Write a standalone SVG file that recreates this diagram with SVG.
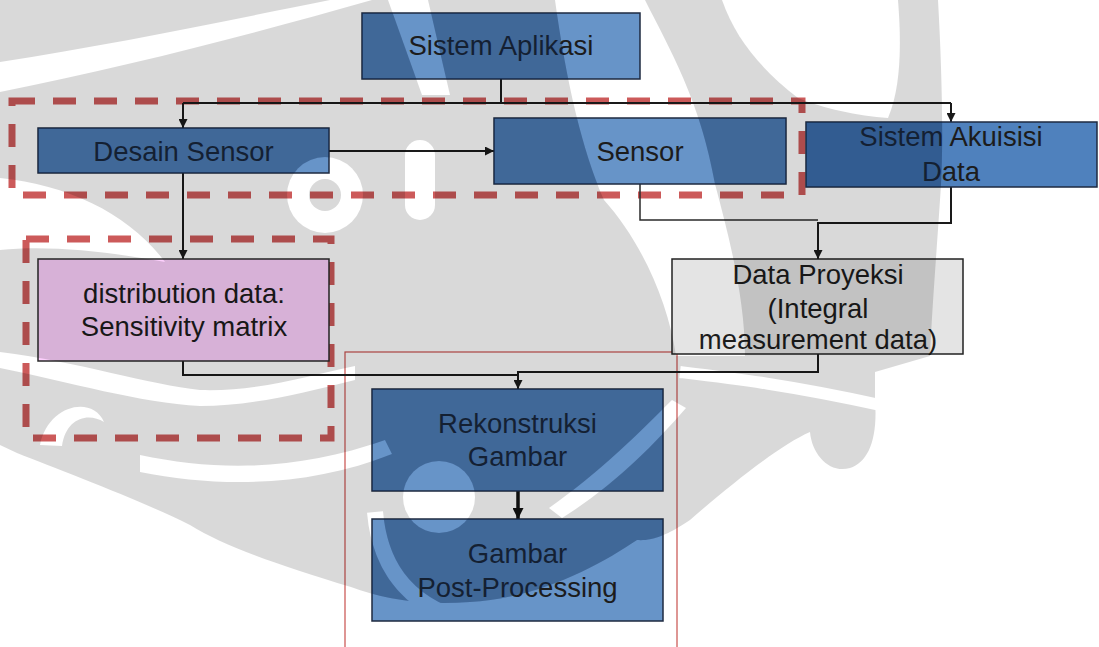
<svg xmlns="http://www.w3.org/2000/svg" width="1099" height="647" viewBox="0 0 1099 647">
  <defs>
    <style>
      .box-blue { fill: #6794c8; stroke: #1e2a40; stroke-width: 1.5; }
      .box-acq { fill: #4f81bd; stroke: #1e2a40; stroke-width: 1.5; }
      .box-pink { fill: #fdd0fd; stroke: #2a2a2a; stroke-width: 1.5; }
      .box-gray { fill: #e4e4e4; stroke: #222; stroke-width: 1.5; }
      .label { font-family: "Liberation Sans", Arial, sans-serif; font-size: 27.5px; fill: #1c1c1c; text-anchor: middle; }
      .wire { fill: none; stroke: #1a1a1a; stroke-width: 2; }
      .wire-thin { fill: none; stroke: #2a2a2a; stroke-width: 1.5; }
      .wire-bold { fill: none; stroke: #111; stroke-width: 3.5; }
      .frame-dash { fill: none; stroke: #cc5a5a; stroke-width: 7; stroke-dasharray: 23 18; }
      .frame-thin { fill: none; stroke: #c9504d; stroke-width: 1.2; }
    </style>
    <marker id="arrow" viewBox="0 0 10 10" refX="10" refY="5" markerWidth="9" markerHeight="9" markerUnits="userSpaceOnUse" orient="auto">
      <path d="M0,0 L10,5 L0,10 Z" fill="#1a1a1a"/>
    </marker>
    <marker id="arrow-bold" viewBox="0 0 10 10" refX="10" refY="5" markerWidth="11" markerHeight="11" markerUnits="userSpaceOnUse" orient="auto">
      <path d="M0,0 L10,5 L0,10 Z" fill="#111"/>
    </marker>

    <!-- ornamental background emblem, used as a soft darkening layer -->
    <mask id="emblem" maskUnits="userSpaceOnUse" x="0" y="0" width="1099" height="647">
      <rect width="1099" height="647" fill="#000"/>
      <g fill="#fff">
        <path d="M0,0 H330 C230,20 110,45 0,62 Z"/>
        <path d="M0,92 C130,66 260,32 372,0 H938 C942,70 944,150 940,200 C936,260 932,310 930,356 L875,372 V400 C878,440 868,462 850,468 C830,474 812,455 810,432 C780,445 730,485 690,520 C665,537 650,541 637,540 C600,565 540,598 470,602 C420,606 380,598 351,587 C280,565 225,547 190,525 C140,500 60,470 17,453 L0,445 Z"/>
      </g>
      <g fill="#000">
        <path d="M0,178 C70,185 130,215 165,262 C110,252 50,245 0,250 Z"/>
        <path d="M388,0 H428 L450,95 L422,95 Z"/>
        <circle cx="325" cy="195" r="38"/>
        <rect x="405" y="140" width="30" height="80" rx="15"/>
        <path d="M555,0 H645 C670,50 700,100 715,184 C730,240 745,300 745,356 L676,356 C668,300 640,240 604,200 C582,150 566,80 555,0 Z"/>
        <path d="M722,0 H898 C902,50 900,90 888,118 C858,116 822,108 798,98 C762,70 736,40 722,0 Z"/>
        <path d="M0,352 C80,362 150,385 200,390 C260,392 310,375 355,366 L355,380 C300,394 250,406 200,406 C140,403 70,382 0,368 Z"/>
        <path d="M140,455 C220,472 300,470 385,440 L392,454 C310,487 220,488 140,472 Z"/>
        <path d="M40,445 C48,405 92,395 104,422 C88,412 66,418 62,446 Z"/>
        <circle cx="439" cy="497" r="36"/>
        <path d="M375,512 C380,570 410,610 480,625" fill="none" stroke="#000" stroke-width="16"/>
        <path d="M680,372 C730,378 790,385 880,405" fill="none" stroke="#000" stroke-width="12"/>
        <path d="M549,508 C600,472 640,432 672,400 L686,408 C652,447 612,487 562,518 Z"/>
      </g>
      <g fill="#fff">
        <circle cx="325" cy="195" r="16"/>
      </g>
    </mask>

    <clipPath id="blue-boxes">
      <rect x="362" y="13" width="278" height="66"/>
      <rect x="38" y="128" width="291" height="45"/>
      <rect x="494" y="118" width="292" height="66"/>
      <rect x="806" y="122" width="291" height="65"/>
      <rect x="372" y="389" width="291" height="102"/>
      <rect x="372" y="519" width="291" height="102"/>
    </clipPath>
  </defs>

  <rect width="1099" height="647" fill="#fff"/>

  <!-- grouping frames -->
  <g id="frames">
    <rect class="frame-dash" x="12" y="101" width="790" height="94"/>
    <rect class="frame-dash" x="26" y="239" width="305" height="199"/>
    <rect class="frame-thin" x="345" y="352" width="332" height="310"/>
  </g>

  <!-- connectors -->
  <g id="connectors">
    <path class="wire" d="M501,79 V103"/>
    <path class="wire" d="M183,103 H951"/>
    <path class="wire" d="M183,103 V128" marker-end="url(#arrow)"/>
    <path class="wire" d="M951,103 V122" marker-end="url(#arrow)"/>
    <path class="wire" d="M329,151 H494" marker-end="url(#arrow)"/>
    <path class="wire" d="M183,173 V259" marker-end="url(#arrow)"/>
    <path class="wire-thin" d="M640,184 V220 H818"/>
    <path class="wire" d="M951,187 V223 H818 V259" marker-end="url(#arrow)"/>
    <path class="wire" d="M818,354 V372 H518 V389" marker-end="url(#arrow)"/>
    <path class="wire" d="M183,361 V375 H518"/>
    <path class="wire-bold" d="M518,491 V519" marker-end="url(#arrow-bold)"/>
  </g>

  <g id="node-sistem-aplikasi">
    <rect class="box-blue" x="362" y="13" width="278" height="66"/>
    <text class="label" x="501" y="55">Sistem Aplikasi</text>
  </g>
  <g id="node-desain-sensor">
    <rect class="box-blue" x="38" y="128" width="291" height="45"/>
    <text class="label" x="183.5" y="161">Desain Sensor</text>
  </g>
  <g id="node-sensor">
    <rect class="box-blue" x="494" y="118" width="292" height="66"/>
    <text class="label" x="640" y="161">Sensor</text>
  </g>
  <g id="node-akuisisi">
    <rect class="box-acq" x="806" y="122" width="291" height="65"/>
    <text class="label" x="951" y="146">Sistem Akuisisi</text>
    <text class="label" x="951" y="181">Data</text>
  </g>
  <g id="node-sensitivity">
    <rect class="box-pink" x="38" y="259" width="291" height="102"/>
    <text class="label" x="184" y="303">distribution data:</text>
    <text class="label" x="184" y="336">Sensitivity matrix</text>
  </g>
  <g id="node-data-proyeksi">
    <rect class="box-gray" x="672" y="259" width="291" height="95"/>
    <text class="label" x="818" y="284">Data Proyeksi</text>
    <text class="label" x="818" y="318">(Integral</text>
    <text class="label" x="818" y="349">measurement data)</text>
  </g>
  <g id="node-rekonstruksi">
    <rect class="box-blue" x="372" y="389" width="291" height="102"/>
    <text class="label" x="517.5" y="433">Rekonstruksi</text>
    <text class="label" x="517.5" y="466">Gambar</text>
  </g>
  <g id="node-post-processing">
    <rect class="box-blue" x="372" y="519" width="291" height="102"/>
    <text class="label" x="517.5" y="563">Gambar</text>
    <text class="label" x="517.5" y="597">Post-Processing</text>
  </g>

  <!-- emblem shading over the page -->
  <g id="emblem-shade" pointer-events="none">
    <rect width="1099" height="647" fill="#000" fill-opacity="0.15" mask="url(#emblem)"/>
    <g clip-path="url(#blue-boxes)">
      <rect width="1099" height="647" fill="#0e3570" fill-opacity="0.3" mask="url(#emblem)"/>
    </g>
  </g>
</svg>
